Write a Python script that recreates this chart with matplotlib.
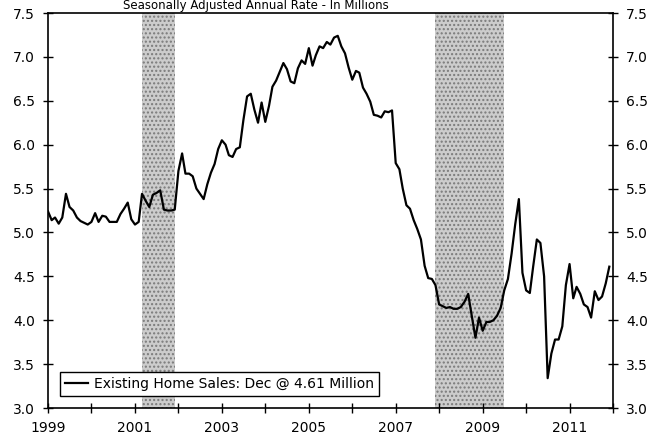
import matplotlib
matplotlib.use('Agg')
import matplotlib.pyplot as plt
import matplotlib.dates as mdates
import numpy as np
import pandas as pd

# Existing home sales, SAAR, millions, monthly Jan 1999 - Dec 2011 #

sales_1999 = [5.24, 5.14, 5.17, 5.10, 5.17, 5.44, 5.29, 5.25, 5.17, 5.13, 5.11, 5.09]
sales_2000 = [5.12, 5.22, 5.12, 5.19, 5.18, 5.12, 5.12, 5.12, 5.21, 5.27, 5.34, 5.15]
sales_2001 = [5.09, 5.12, 5.44, 5.36, 5.29, 5.43, 5.45, 5.48, 5.26, 5.25, 5.25, 5.26]
sales_2002 = [5.70, 5.90, 5.67, 5.67, 5.64, 5.50, 5.44, 5.38, 5.55, 5.68, 5.78, 5.95]
sales_2003 = [6.05, 6.00, 5.88, 5.86, 5.95, 5.97, 6.28, 6.55, 6.58, 6.40, 6.25, 6.48]
sales_2004 = [6.26, 6.44, 6.66, 6.73, 6.83, 6.93, 6.86, 6.72, 6.70, 6.87, 6.96, 6.92]
sales_2005 = [7.10, 6.90, 7.02, 7.12, 7.10, 7.17, 7.14, 7.22, 7.24, 7.12, 7.04, 6.88]
sales_2006 = [6.74, 6.84, 6.82, 6.65, 6.58, 6.49, 6.34, 6.33, 6.31, 6.38, 6.37, 6.39]
sales_2007 = [5.79, 5.72, 5.50, 5.31, 5.27, 5.14, 5.04, 4.92, 4.62, 4.48, 4.47, 4.40]
sales_2008 = [4.18, 4.16, 4.14, 4.15, 4.13, 4.13, 4.15, 4.21, 4.30, 4.05, 3.80, 4.03]
sales_2009 = [3.88, 3.98, 3.98, 4.00, 4.05, 4.14, 4.34, 4.47, 4.76, 5.09, 5.38, 4.54]
sales_2010 = [4.34, 4.31, 4.61, 4.92, 4.88, 4.50, 3.34, 3.62, 3.78, 3.78, 3.93, 4.40]
sales_2011 = [4.64, 4.25, 4.38, 4.30, 4.18, 4.15, 4.03, 4.33, 4.23, 4.27, 4.42, 4.61]

sales = (sales_1999 + sales_2000 + sales_2001 + sales_2002 + sales_2003 + sales_2004 + sales_2005
         + sales_2006 + sales_2007 + sales_2008 + sales_2009 + sales_2010 + sales_2011)
months = pd.date_range('1999-01-01', periods=len(sales), freq='MS')

recessions = [('2001-03-01', '2001-12-01'), ('2007-12-01', '2009-07-01')]
year_labels = ['1999', '2001', '2003', '2005', '2007', '2009', '2011']

series_label = 'Existing Home Sales: Dec @ 4.61 Million'
subtitle = 'Seasonally Adjusted Annual Rate - In Millions'

# Plotting #

fig = plt.figure(figsize=(6.63, 4.37), dpi=100)
ax = fig.add_axes([48 / 663, 1 - 408 / 437, 565 / 663, 395 / 437])

for start, end in recessions:
    ax.axvspan(pd.Timestamp(start), pd.Timestamp(end), facecolor='#cccccc', edgecolor='#7a7a7a',
               hatch='....', linewidth=0, zorder=1)

ax.plot(months, sales, color='black', lw=1.6, label=series_label, zorder=3)

ax.set_xlim(pd.Timestamp('1999-01-01'), pd.Timestamp('2012-01-01'))
ax.set_ylim(3.0, 7.5)
ax.set_yticks(np.arange(3.0, 7.51, 0.5))
ax.yaxis.set_major_formatter(matplotlib.ticker.FormatStrFormatter('%.1f'))
ax.set_xticks([pd.Timestamp(y + '-01-01') for y in year_labels])
ax.set_xticklabels(year_labels)
ax.xaxis.set_minor_locator(mdates.YearLocator(1))

ax.tick_params(axis='both', which='both', direction='inout', length=7, width=1, labelsize=10, pad=6)
ax.tick_params(axis='y', left=True, right=True, labelleft=True, labelright=True)
for s in ax.spines.values():
    s.set_linewidth(1.2)

leg = ax.legend(loc='lower left', bbox_to_anchor=(0.021, 0.03), borderaxespad=0, fancybox=False,
                framealpha=1, edgecolor='black', fontsize=10, handlelength=1.7, handletextpad=0.4,
                borderpad=0.35)
leg.get_frame().set_linewidth(1.0)
leg.set_zorder(5)

fig.text(256 / 663, 1 - 6 / 437, subtitle, ha='center', va='center', fontsize=8.5)

fig.savefig('out.png', dpi=100)
